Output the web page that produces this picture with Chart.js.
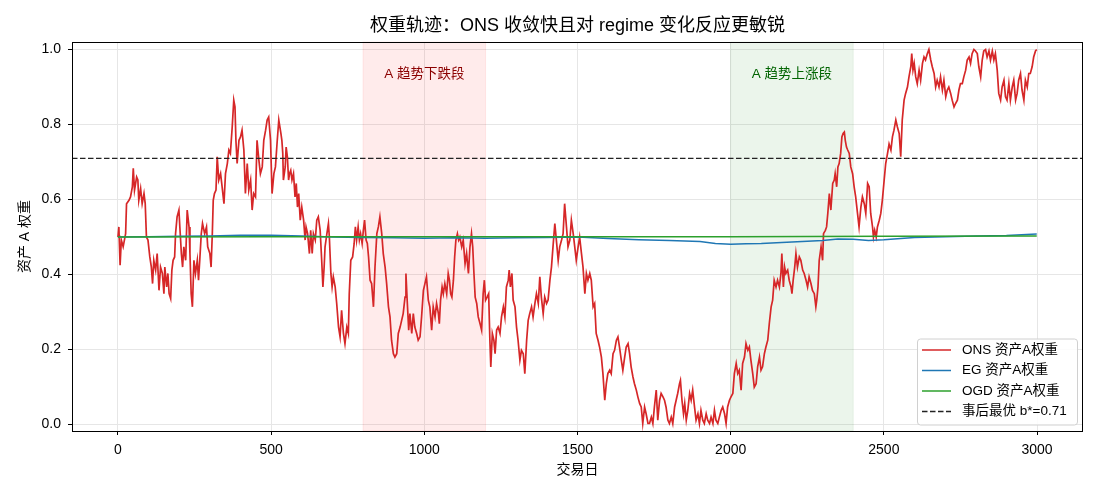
<!DOCTYPE html>
<html>
<head>
<meta charset="utf-8">
<script src="https://cdn.jsdelivr.net/npm/chart.js@4/dist/chart.umd.min.js"></script>
<style>
  html, body { margin: 0; padding: 0; background: #fff; }
  #wrap { width: 1100px; height: 495px; }
</style>
</head>
<body>
<div id="wrap"><canvas id="chart" width="1100" height="495"></canvas></div>
<script>
// Dados: [dia, peso]
const onsPoints = [
  [0,0.500],[3,0.527],[7,0.425],[11,0.492],[17,0.474],[25,0.509],[28,0.589],[36,0.598],[41,0.607],[47,0.634],
  [50,0.683],[54,0.625],[61,0.660],[65,0.652],[68,0.598],[74,0.629],[79,0.589],[85,0.616],[89,0.589],[93,0.500],
  [98,0.492],[104,0.447],[109,0.420],[113,0.376],[117,0.438],[123,0.412],[128,0.456],[134,0.358],[139,0.420],[145,0.403],
  [150,0.349],[153,0.420],[159,0.367],[163,0.403],[167,0.349],[172,0.336],[176,0.412],[180,0.438],[185,0.447],[188,0.509],
  [193,0.554],[199,0.572],[202,0.527],[207,0.456],[211,0.420],[215,0.474],[221,0.438],[226,0.572],[232,0.527],[235,0.456],
  [239,0.349],[243,0.314],[248,0.438],[253,0.403],[259,0.438],[263,0.385],[267,0.438],[272,0.509],[276,0.536],[283,0.509],
  [289,0.527],[293,0.474],[300,0.456],[304,0.420],[308,0.509],[311,0.598],[315,0.616],[320,0.625],[324,0.714],[329,0.652],
  [335,0.669],[340,0.634],[346,0.589],[351,0.669],[357,0.696],[362,0.732],[367,0.723],[373,0.794],[378,0.865],[382,0.847],
  [385,0.758],[389,0.696],[395,0.758],[400,0.767],[405,0.785],[411,0.732],[416,0.616],[422,0.696],[427,0.625],[433,0.652],
  [438,0.572],[443,0.616],[449,0.607],[454,0.758],[460,0.705],[465,0.669],[471,0.687],[476,0.758],[482,0.785],[487,0.812],
  [492,0.820],[498,0.758],[503,0.616],[509,0.669],[514,0.687],[520,0.758],[525,0.812],
  [532,0.776],[535,0.758],[538,0.723],[540,0.652],[546,0.687],[549,0.740],[553,0.714],[557,0.652],[560,0.669],[564,0.678],
  [568,0.652],[573,0.669],[578,0.607],[582,0.643],[586,0.580],[590,0.616],[595,0.545],[600,0.580],[606,0.545],[611,0.492],
  [614,0.527],[619,0.509],[625,0.456],[629,0.518],[634,0.456],[638,0.509],[644,0.492],[649,0.545],[654,0.554],[660,0.518],
  [665,0.438],[669,0.367],[673,0.420],[676,0.474],[682,0.509],[687,0.536],[690,0.500],[695,0.403],[699,0.367],[703,0.394],
  [709,0.367],[714,0.323],[720,0.260],[725,0.234],[730,0.305],[736,0.243],[741,0.216],[747,0.260],[752,0.243],[755,0.349],
  [760,0.438],[766,0.447],[771,0.483],[775,0.527],[779,0.492],[784,0.527],[788,0.492],[792,0.509],[797,0.483],[801,0.518],
  [805,0.545],[810,0.492],[814,0.483],[818,0.447],[823,0.385],[828,0.376],[834,0.314],[839,0.420],[845,0.509],[850,0.527],
  [855,0.554],[861,0.509],[866,0.456],[872,0.420],[877,0.376],[883,0.314],[888,0.287],[893,0.225],[899,0.189],[904,0.180],
  [910,0.189],[915,0.243],[921,0.260],[926,0.278],[931,0.296],[937,0.340],[940,0.403],[944,0.332],[949,0.252],[953,0.296],
  [959,0.243],[964,0.296],[969,0.260],[975,0.243],[980,0.225],[986,0.234],[991,0.287],[997,0.358],[1002,0.376],[1007,0.394],
  [1013,0.332],[1018,0.314],
  [1024,0.252],[1029,0.314],[1035,0.287],[1040,0.323],[1046,0.296],[1049,0.269],[1053,0.332],[1058,0.367],[1062,0.349],[1067,0.376],
  [1073,0.349],[1078,0.403],[1082,0.385],[1086,0.349],[1090,0.340],[1095,0.385],[1099,0.447],[1103,0.492],[1108,0.509],[1112,0.492],
  [1116,0.500],[1122,0.474],[1127,0.492],[1133,0.429],[1138,0.456],[1144,0.403],[1149,0.474],[1154,0.509],[1158,0.474],[1162,0.403],
  [1166,0.340],[1171,0.323],[1176,0.287],[1182,0.269],[1187,0.252],[1192,0.349],[1196,0.385],[1200,0.332],[1205,0.340],[1210,0.349],
  [1214,0.225],[1217,0.154],[1222,0.243],[1227,0.225],[1231,0.189],[1236,0.252],[1241,0.260],[1247,0.243],[1252,0.287],[1258,0.314],
  [1263,0.287],[1268,0.367],[1274,0.385],[1277,0.412],[1281,0.367],[1286,0.403],[1290,0.332],[1296,0.314],[1301,0.260],[1306,0.225],
  [1312,0.172],[1317,0.198],[1323,0.189],[1328,0.136],[1334,0.225],[1339,0.278],[1344,0.296],[1350,0.314],[1355,0.287],[1361,0.323],
  [1366,0.349],[1372,0.323],[1377,0.394],[1382,0.340],[1388,0.296],[1393,0.340],[1399,0.323],[1404,0.332],[1410,0.385],[1415,0.420],
  [1420,0.474],[1426,0.536],[1431,0.492],[1437,0.438],[1442,0.474],[1448,0.492],[1453,0.509],[1458,0.589],[1464,0.527],[1469,0.474],
  [1475,0.492],[1480,0.545],[1486,0.509],[1491,0.474],[1496,0.438],[1502,0.474],[1507,0.500],[1513,0.456],[1518,0.420],[1524,0.349],
  [1529,0.403],[1534,0.385],[1540,0.403],
  [1545,0.385],[1551,0.314],[1556,0.323],[1561,0.243],[1567,0.225],[1572,0.207],[1578,0.180],[1583,0.136],[1589,0.065],[1594,0.109],
  [1599,0.136],[1605,0.145],[1610,0.136],[1616,0.189],[1621,0.198],[1627,0.225],[1632,0.234],[1637,0.207],[1643,0.172],[1648,0.145],
  [1654,0.180],[1659,0.207],[1665,0.216],[1670,0.189],[1675,0.154],[1681,0.127],[1686,0.109],[1692,0.092],[1697,0.074],[1703,0.056],
  [1708,0.047],[1713,0.003],[1719,0.047],[1724,0.029],[1730,0.003],[1735,0.003],[1741,0.020],[1746,0.003],[1751,0.047],[1757,0.092],
  [1762,0.012],[1768,0.065],[1773,0.083],[1779,0.074],[1784,0.065],[1789,0.047],[1795,0.012],[1800,0.003],[1806,0.020],[1811,0.003],
  [1817,0.047],[1822,0.065],[1827,0.083],[1833,0.109],[1836,0.118],[1841,0.065],[1846,0.029],[1850,0.056],[1855,0.012],[1860,0.038],
  [1866,0.083],[1871,0.065],[1876,0.092],[1882,0.047],[1887,0.012],[1893,0.029],[1898,0.003],[1903,0.038],[1909,0.012],[1914,0.003],
  [1920,0.029],[1925,0.012],[1931,0.003],[1936,0.020],[1942,0.003],[1947,0.038],[1952,0.012],[1958,0.003],[1963,0.020],[1969,0.038],
  [1974,0.047],[1980,0.029],[1985,0.003],[1990,0.047],[1996,0.065],[2001,0.074],[2007,0.083],[2012,0.136],[2018,0.163],[2023,0.136],
  [2028,0.145],[2034,0.092],[2039,0.163],[2045,0.180],[2050,0.216],[2056,0.198],[2061,0.207],
  [2066,0.172],[2072,0.136],[2077,0.100],[2083,0.109],[2088,0.154],[2094,0.180],[2099,0.145],[2104,0.154],[2110,0.189],[2115,0.207],
  [2121,0.225],[2126,0.269],[2132,0.314],[2137,0.332],[2142,0.385],[2148,0.367],[2153,0.385],[2159,0.367],[2164,0.403],[2167,0.456],
  [2172,0.367],[2176,0.420],[2180,0.403],[2186,0.412],[2191,0.385],[2197,0.367],[2200,0.349],[2204,0.385],[2209,0.420],[2213,0.456],
  [2218,0.420],[2224,0.447],[2229,0.438],[2235,0.412],[2240,0.403],[2246,0.385],[2251,0.367],[2256,0.394],[2262,0.376],[2267,0.358],
  [2273,0.349],[2278,0.314],[2281,0.332],[2285,0.367],[2289,0.438],[2295,0.474],[2300,0.438],[2303,0.509],[2309,0.518],[2313,0.527],
  [2317,0.563],[2322,0.616],[2327,0.572],[2333,0.643],[2338,0.652],[2341,0.669],[2346,0.634],[2350,0.687],[2354,0.696],[2359,0.723],
  [2363,0.767],[2367,0.776],[2371,0.780],[2374,0.758],[2378,0.740],[2382,0.732],[2387,0.723],[2392,0.687],[2398,0.669],[2403,0.634],
  [2408,0.607],[2414,0.563],[2419,0.527],[2425,0.580],[2430,0.607],[2436,0.589],[2441,0.563],[2447,0.643],[2452,0.634],[2457,0.563],
  [2463,0.527],[2466,0.500],[2470,0.518],[2475,0.500],[2479,0.527],[2485,0.545],[2490,0.563],[2495,0.598],[2501,0.652],[2506,0.696],
  [2512,0.723],[2517,0.748],[2523,0.732],[2528,0.767],[2533,0.785],[2539,0.812],[2544,0.794],[2550,0.776],
  [2555,0.714],[2560,0.812],[2566,0.865],[2571,0.883],[2577,0.900],[2582,0.927],[2588,0.954],[2591,0.989],[2595,0.945],[2599,0.963],
  [2604,0.927],[2609,0.909],[2615,0.945],[2620,0.918],[2626,0.963],[2631,0.980],[2636,0.972],[2642,0.989],[2647,1.000],[2653,0.972],
  [2658,0.954],[2664,0.936],[2669,0.900],[2674,0.918],[2680,0.900],[2685,0.927],[2691,0.892],[2696,0.918],[2702,0.874],[2707,0.892],
  [2712,0.900],[2718,0.883],[2723,0.865],[2729,0.847],[2734,0.856],[2740,0.865],[2745,0.892],[2750,0.909],[2756,0.909],[2761,0.927],
  [2767,0.945],[2772,0.972],[2778,0.980],[2783,0.963],[2788,0.989],[2794,1.000],[2799,0.996],[2805,0.989],[2810,0.954],[2816,0.927],
  [2821,0.972],[2826,0.996],[2832,1.000],[2837,0.980],[2843,0.996],[2848,0.972],[2854,0.996],[2859,0.972],[2864,0.989],[2870,0.945],
  [2875,0.883],[2881,0.865],[2886,0.900],[2892,0.918],[2897,0.874],[2902,0.865],[2908,0.909],[2913,0.865],[2919,0.900],[2924,0.918],
  [2930,0.865],[2935,0.883],[2940,0.918],[2946,0.936],[2951,0.892],[2957,0.865],[2962,0.918],[2968,0.900],[2973,0.936],[2978,0.936],
  [2984,0.954],[2989,0.980],[2995,0.996],[2999,1.000]
];

const egDays    = [0, 100, 200, 300, 400, 500, 600, 700, 800, 900, 1000, 1100, 1200, 1300, 1400, 1500, 1600, 1700, 1800, 1900, 1950, 2000, 2050, 2100, 2200, 2300, 2350, 2400, 2450, 2500, 2600, 2700, 2800, 2900, 2999];
const egWeights = [0.500, 0.501, 0.502, 0.503, 0.505, 0.505, 0.503, 0.500, 0.499, 0.498, 0.497, 0.498, 0.497, 0.498, 0.499, 0.500, 0.496, 0.493, 0.491, 0.488, 0.483, 0.481, 0.482, 0.483, 0.487, 0.491, 0.495, 0.494, 0.491, 0.493, 0.499, 0.501, 0.503, 0.504, 0.508];

const ogdDays    = [0, 500, 1000, 1500, 2000, 2500, 2999];
const ogdWeights = [0.500, 0.501, 0.501, 0.501, 0.501, 0.502, 0.503];

const bestB = 0.71;
const xTicks = [0, 500, 1000, 1500, 2000, 2500, 3000];
const yTicks = [0.0, 0.2, 0.4, 0.6, 0.8, 1.0];

const regimes = [
  { from: 800,  to: 1200, label: 'A 趋势下跌段', fill: 'rgba(255,0,0,0.08)', text: '#8b0000' },
  { from: 2000, to: 2400, label: 'A 趋势上涨段', fill: 'rgba(0,128,0,0.08)', text: '#006400' }
];

const legendItems = [
  { label: 'ONS 资产A权重', color: '#d62728', dash: [] },
  { label: 'EG 资产A权重',  color: '#1f77b4', dash: [] },
  { label: 'OGD 资产A权重', color: '#2ca02c', dash: [] },
  { label: '事后最优 b*=0.71', color: '#222', dash: [5.5, 2.5] }
];

const FONT = "'Liberation Sans', 'Noto Sans CJK SC', sans-serif";

// Decorações no estilo matplotlib
const decor = {
  id: 'decor',
  beforeDatasetsDraw(chart) {
    const { ctx, chartArea: a, scales: { x, y } } = chart;
    ctx.save();
    regimes.forEach(r => {
      const x0 = x.getPixelForValue(r.from), x1 = x.getPixelForValue(r.to);
      ctx.fillStyle = r.fill;
      ctx.fillRect(x0, a.top, x1 - x0, a.bottom - a.top);
      ctx.strokeStyle = r.fill;
      ctx.lineWidth = 1;
      ctx.strokeRect(x0, a.top, x1 - x0, a.bottom - a.top);
      ctx.fillStyle = r.text;
      ctx.font = '13.5px ' + FONT;
      ctx.textAlign = 'center';
      ctx.textBaseline = 'middle';
      ctx.fillText(r.label, (x0 + x1) / 2, y.getPixelForValue(0.934));
    });
    ctx.restore();
  },
  afterDraw(chart) {
    const { ctx, chartArea: a } = chart;
    ctx.save();
    // moldura
    ctx.strokeStyle = '#000';
    ctx.lineWidth = 1;
    ctx.strokeRect(Math.round(a.left) + 0.5, Math.round(a.top) + 0.5, Math.round(a.right - a.left) - 1, Math.round(a.bottom - a.top));

    // título e eixos
    ctx.fillStyle = '#000';
    ctx.textAlign = 'center';
    ctx.textBaseline = 'middle';
    ctx.font = '18px ' + FONT;
    ctx.fillText('权重轨迹：ONS 收敛快且对 regime 变化反应更敏锐', (a.left + a.right) / 2, 26.5);
    ctx.font = '14px ' + FONT;
    ctx.fillText('交易日', (a.left + a.right) / 2, 470);
    ctx.translate(25, (a.top + a.bottom) / 2);
    ctx.rotate(-Math.PI / 2);
    ctx.fillText('资产 A 权重', 0, 0);
    ctx.restore();

    // legenda
    ctx.save();
    const bx = 917, by = 338.5, bw = 160, bh = 86;
    ctx.fillStyle = 'rgba(255,255,255,0.85)';
    ctx.strokeStyle = '#d0d0d0';
    ctx.lineWidth = 1;
    ctx.beginPath();
    ctx.roundRect(bx + 0.5, by + 0.5, bw, bh, 3);
    ctx.fill();
    ctx.stroke();
    ctx.font = '13.5px ' + FONT;
    ctx.textAlign = 'left';
    ctx.textBaseline = 'middle';
    legendItems.forEach((it, i) => {
      const ly = 350 + i * 20.5;
      ctx.strokeStyle = it.color;
      ctx.lineWidth = 1.5;
      ctx.setLineDash(it.dash);
      ctx.beginPath();
      ctx.moveTo(922, ly);
      ctx.lineTo(951, ly);
      ctx.stroke();
      ctx.setLineDash([]);
      ctx.fillStyle = '#000';
      ctx.fillText(it.label, 962, ly);
    });
    ctx.restore();
  }
};

const toXY = (days, vals) => days.map((d, i) => ({ x: d, y: vals[i] }));

new Chart(document.getElementById('chart'), {
  type: 'line',
  data: {
    datasets: [
      { label: '事后最优 b*=0.71', data: [{ x: -150, y: bestB }, { x: 3150, y: bestB }],
        borderColor: '#222', borderWidth: 1.2, borderDash: [5.5, 2.5], pointRadius: 0, order: 0 },
      { label: 'OGD 资产A权重', data: toXY(ogdDays, ogdWeights),
        borderColor: '#2ca02c', borderWidth: 1.5, pointRadius: 0, order: 1 },
      { label: 'EG 资产A权重', data: toXY(egDays, egWeights),
        borderColor: '#1f77b4', borderWidth: 1.5, pointRadius: 0, order: 2 },
      { label: 'ONS 资产A权重', data: onsPoints.map(p => ({ x: p[0], y: p[1] })),
        borderColor: '#d62728', borderWidth: 1.7, pointRadius: 0, order: 3 }
    ]
  },
  options: {
    responsive: false,
    animation: false,
    devicePixelRatio: 1,
    layout: { padding: { top: 42, right: 17, left: 0, bottom: 0 } },
    plugins: { legend: { display: false }, title: { display: false }, tooltip: { enabled: false } },
    elements: { line: { tension: 0 } },
    scales: {
      x: {
        type: 'linear', min: -150, max: 3150,
        afterBuildTicks: s => { s.ticks = xTicks.map(v => ({ value: v })); },
        afterFit: s => { s.height = 64; },
        grid: { color: '#e6e6e6', tickColor: '#000', tickLength: 4 },
        border: { display: false },
        ticks: { color: '#000', font: { size: 14, family: FONT }, padding: 7, maxRotation: 0, callback: v => String(v) }
      },
      y: {
        type: 'linear', min: -0.017, max: 1.02,
        afterBuildTicks: s => { s.ticks = yTicks.map(v => ({ value: v })); },
        afterFit: s => { s.width = 72; },
        grid: { color: '#e6e6e6', tickColor: '#000', tickLength: 4 },
        border: { display: false },
        ticks: { color: '#000', font: { size: 14, family: FONT }, padding: 7, callback: v => v.toFixed(1) }
      }
    }
  },
  plugins: [decor]
});
</script>
</body>
</html>
